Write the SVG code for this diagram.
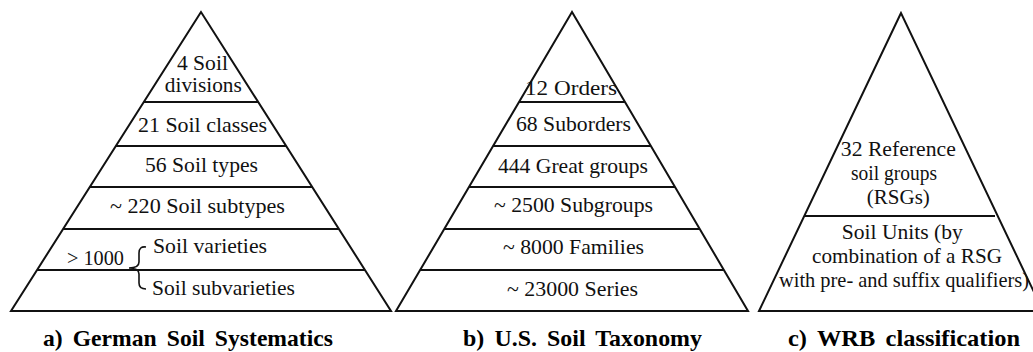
<svg xmlns="http://www.w3.org/2000/svg" width="1033" height="352" viewBox="0 0 1033 352">
<style>
.tri{fill:#fff;stroke:#111;stroke-width:2;stroke-linejoin:miter}
.ln{stroke:#111;stroke-width:2;fill:none}
text{font-family:"Liberation Serif","Times New Roman",serif;fill:#111}
.t{font-size:22px;text-anchor:middle}
.s{font-size:22px}
.tc{font-size:21px;text-anchor:middle}
.ttl{font-size:23px;font-weight:bold;fill:#000;word-spacing:4px}
.br{stroke:#111;stroke-width:1.6;fill:none}
</style>
<rect width="1033" height="352" fill="#fff"/>
<g id="pyramid-a">
<polygon class="tri" points="201,12 11,311 391,311"/>
<line class="ln" x1="143.8" y1="102" x2="258.2" y2="102"/>
<line class="ln" x1="115.9" y1="146" x2="286.1" y2="146"/>
<line class="ln" x1="89.8" y1="187" x2="312.2" y2="187"/>
<line class="ln" x1="63.1" y1="229" x2="338.9" y2="229"/>
<line class="ln" x1="37" y1="270" x2="365" y2="270"/>
<text class="t" x="202.4" y="70" style="font-size:21px" textLength="51" lengthAdjust="spacingAndGlyphs">4 Soil</text>
<text class="t" x="203.3" y="92" style="font-size:21px" textLength="77" lengthAdjust="spacingAndGlyphs">divisions</text>
<text class="t" x="202.5" y="132" textLength="129" lengthAdjust="spacingAndGlyphs">21 Soil classes</text>
<text class="t" x="201.5" y="172" textLength="113" lengthAdjust="spacingAndGlyphs">56 Soil types</text>
<text class="t" x="197.5" y="213" textLength="175" lengthAdjust="spacingAndGlyphs">~ 220 Soil subtypes</text>
<text class="s" x="67" y="265" textLength="57" lengthAdjust="spacingAndGlyphs">&gt; 1000</text>
<text class="s" x="153" y="253" textLength="114" lengthAdjust="spacingAndGlyphs">Soil varieties</text>
<text class="s" x="152" y="295" textLength="143" lengthAdjust="spacingAndGlyphs">Soil subvarieties</text>
</g>
<g id="pyramid-b">
<polygon class="tri" points="572,12 396,311 748,311"/>
<line class="ln" x1="519" y1="102" x2="625" y2="102"/>
<line class="ln" x1="493.1" y1="146" x2="650.9" y2="146"/>
<line class="ln" x1="469" y1="187" x2="675" y2="187"/>
<line class="ln" x1="444.3" y1="229" x2="699.7" y2="229"/>
<line class="ln" x1="420.1" y1="270" x2="723.9" y2="270"/>
<text class="t" x="571" y="95" textLength="92" lengthAdjust="spacingAndGlyphs">12 Orders</text>
<text class="t" x="573.5" y="131" textLength="115" lengthAdjust="spacingAndGlyphs">68 Suborders</text>
<text class="t" x="573" y="173" textLength="150" lengthAdjust="spacingAndGlyphs">444 Great groups</text>
<text class="t" x="573.5" y="212" textLength="159" lengthAdjust="spacingAndGlyphs">~ 2500 Subgroups</text>
<text class="t" x="573.5" y="254" textLength="141" lengthAdjust="spacingAndGlyphs">~ 8000 Families</text>
<text class="t" x="572.5" y="296" textLength="131" lengthAdjust="spacingAndGlyphs">~ 23000 Series</text>
</g>
<g id="pyramid-c">
<polygon class="tri" points="901,13 759,311 1043,311"/>
<line class="ln" x1="804" y1="216" x2="995" y2="216"/>
<text class="tc" x="898.3" y="156" textLength="115" lengthAdjust="spacingAndGlyphs">32 Reference</text>
<text class="tc" x="894" y="180" textLength="86" lengthAdjust="spacingAndGlyphs">soil groups</text>
<text class="tc" x="898.3" y="204" textLength="63" lengthAdjust="spacingAndGlyphs">(RSGs)</text>
<text class="tc" x="902.3" y="239" textLength="121" lengthAdjust="spacingAndGlyphs">Soil Units (by</text>
<text class="tc" x="907" y="263" textLength="190" lengthAdjust="spacingAndGlyphs">combination of a RSG</text>
<text class="tc" x="904" y="287" textLength="250" lengthAdjust="spacingAndGlyphs">with pre- and suffix qualifiers)</text>
</g>
<g id="connectors">
<path class="br" d="M146,247 Q139,246 139,253 L139,262 Q139,268 129,268 Q139,268 139,274 L139,283 Q139,289 146,289"/>
</g>
<g id="titles">
<text class="ttl" x="43" y="346" textLength="290" lengthAdjust="spacingAndGlyphs">a) German Soil Systematics</text>
<text class="ttl" x="463" y="346" textLength="239" lengthAdjust="spacingAndGlyphs">b) U.S. Soil Taxonomy</text>
<text class="ttl" x="788" y="346" textLength="232" lengthAdjust="spacingAndGlyphs">c) WRB classification</text>
</g>
</svg>
